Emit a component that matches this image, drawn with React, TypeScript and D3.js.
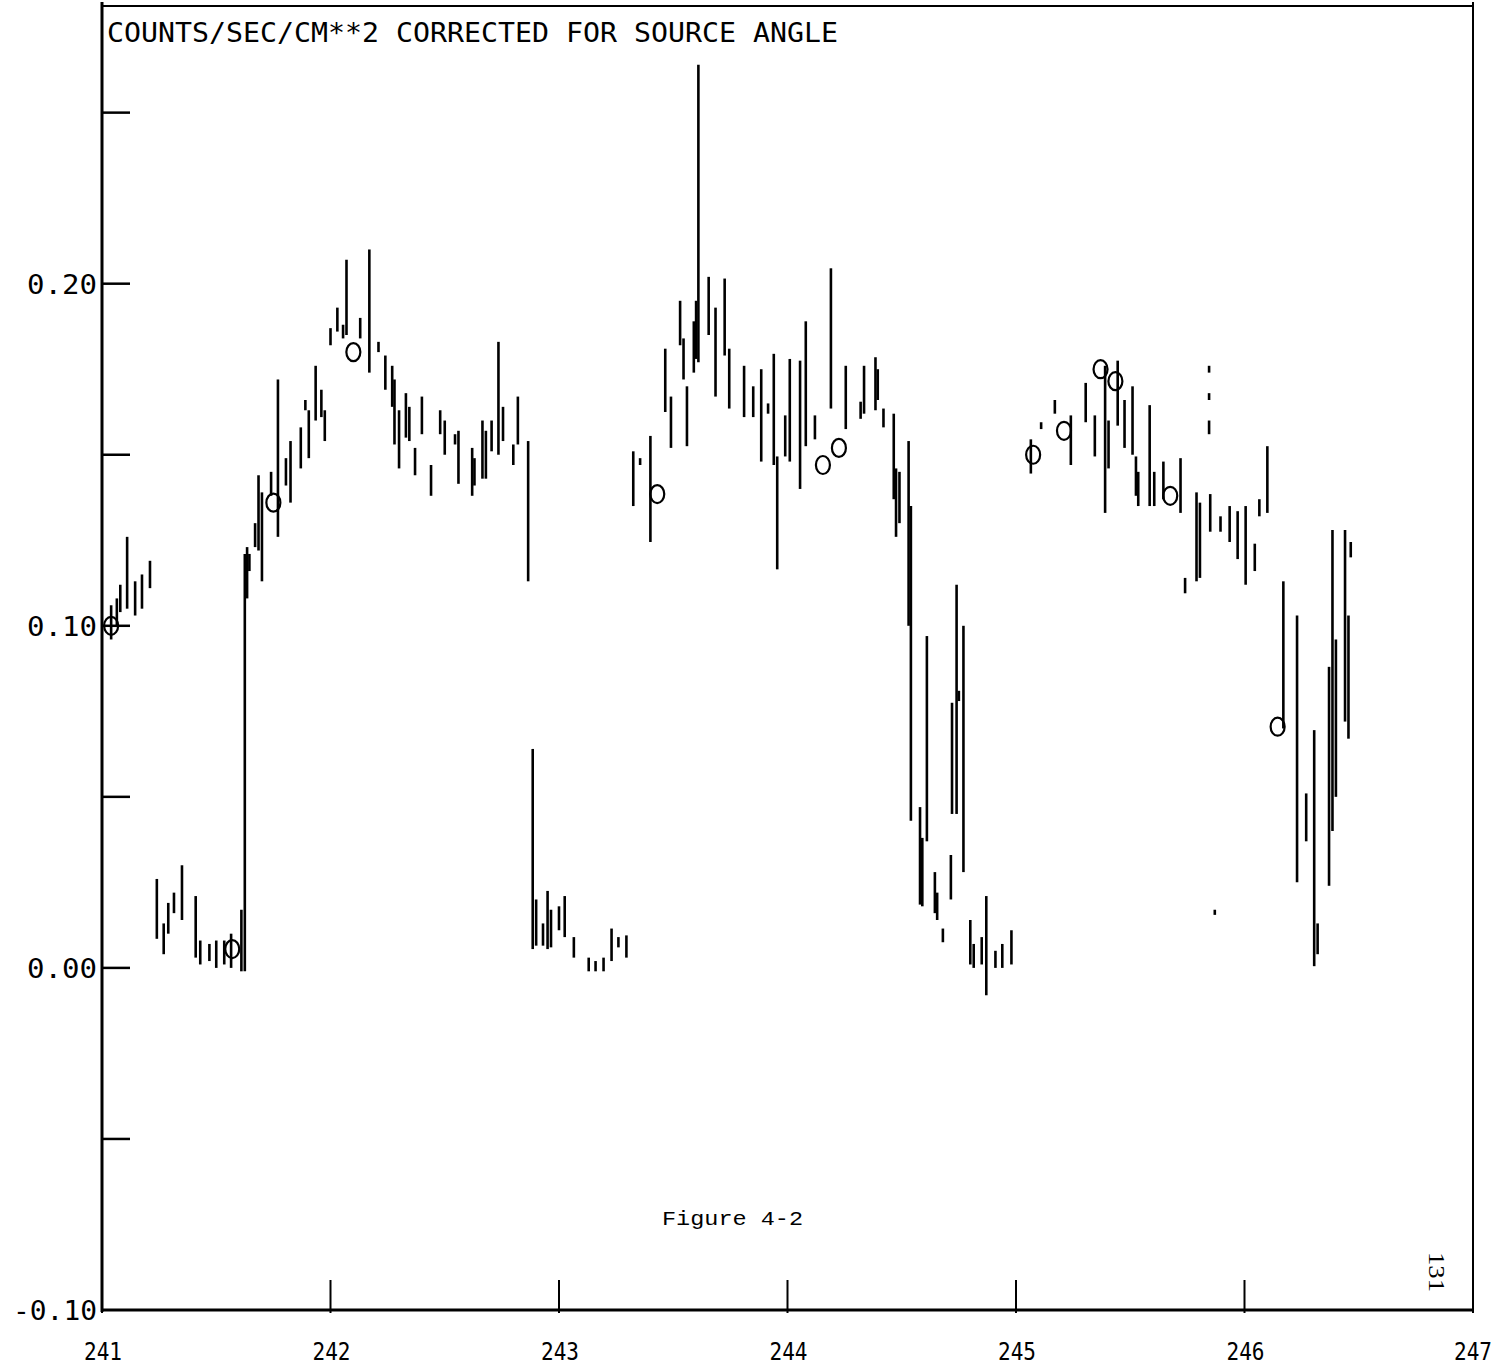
import React, { useEffect } from "react";
import * as d3 from "d3";

// Plotter chart: vertical bars are (day, low, high) count-rate ranges,
// "O" markers are the pass averages.

type Seg = [number, number, number];

const pass1: Seg[] = [
  [241.04, 0.096, 0.106], [241.065, 0.1, 0.108], [241.08, 0.104, 0.112],
  [241.11, 0.105, 0.126], [241.145, 0.103, 0.113], [241.175, 0.105, 0.115],
  [241.21, 0.111, 0.119],
];

const low1: Seg[] = [
  [241.24, 0.0085, 0.026], [241.27, 0.004, 0.013], [241.29, 0.01, 0.019],
  [241.315, 0.016, 0.022], [241.35, 0.014, 0.03], [241.41, 0.003, 0.021],
  [241.43, 0.001, 0.008], [241.47, 0.002, 0.007], [241.5, 0.0, 0.008],
  [241.535, 0.001, 0.008], [241.565, 0.0, 0.01], [241.61, -0.001, 0.017],
  [241.625, -0.001, 0.121],
];

const rise1: Seg[] = [
  [241.635, 0.108, 0.123], [241.645, 0.116, 0.121], [241.67, 0.123, 0.13],
  [241.685, 0.122, 0.144], [241.7, 0.113, 0.139], [241.74, 0.138, 0.145],
  [241.77, 0.126, 0.172], [241.805, 0.141, 0.149], [241.825, 0.136, 0.154],
  [241.87, 0.146, 0.158], [241.89, 0.163, 0.166], [241.905, 0.149, 0.163],
  [241.935, 0.16, 0.176], [241.96, 0.161, 0.169], [241.975, 0.154, 0.163],
];

const high1: Seg[] = [
  [242.0, 0.182, 0.187], [242.03, 0.186, 0.193], [242.055, 0.184, 0.188],
  [242.07, 0.185, 0.207], [242.13, 0.184, 0.19], [242.17, 0.174, 0.21],
  [242.21, 0.18, 0.183], [242.24, 0.169, 0.179], [242.27, 0.164, 0.176],
  [242.28, 0.153, 0.172], [242.3, 0.146, 0.163], [242.33, 0.155, 0.168],
  [242.345, 0.154, 0.164], [242.37, 0.144, 0.152], [242.4, 0.156, 0.167],
  [242.44, 0.138, 0.147], [242.48, 0.156, 0.163], [242.5, 0.15, 0.16],
  [242.545, 0.153, 0.156], [242.56, 0.1415, 0.157], [242.62, 0.138, 0.152],
  [242.63, 0.141, 0.149], [242.665, 0.143, 0.16], [242.68, 0.143, 0.157],
  [242.705, 0.151, 0.16], [242.735, 0.15, 0.183], [242.755, 0.154, 0.164],
  [242.8, 0.147, 0.153], [242.82, 0.153, 0.167], [242.865, 0.113, 0.154],
];

const low2: Seg[] = [
  [242.885, 0.0055, 0.064], [242.9, 0.0065, 0.02], [242.93, 0.0065, 0.013],
  [242.95, 0.0055, 0.0225], [242.965, 0.006, 0.017], [243.0, 0.011, 0.018],
  [243.025, 0.009, 0.021], [243.065, 0.003, 0.009], [243.13, -0.001, 0.003],
  [243.16, -0.001, 0.002], [243.195, -0.001, 0.003], [243.23, 0.002, 0.0115],
  [243.26, 0.006, 0.009], [243.295, 0.003, 0.0095],
];

const high2: Seg[] = [
  [243.325, 0.135, 0.151], [243.355, 0.147, 0.149], [243.4, 0.1245, 0.1555],
  [243.465, 0.1625, 0.181], [243.49, 0.152, 0.167], [243.53, 0.182, 0.195],
  [243.545, 0.172, 0.184], [243.56, 0.1525, 0.17], [243.59, 0.174, 0.189],
  [243.6, 0.178, 0.195], [243.61, 0.177, 0.264], [243.655, 0.185, 0.202],
  [243.685, 0.167, 0.193], [243.725, 0.179, 0.2015], [243.745, 0.1635, 0.181],
  [243.81, 0.161, 0.176], [243.85, 0.161, 0.17], [243.885, 0.148, 0.175],
  [243.915, 0.162, 0.165], [243.94, 0.147, 0.1795], [243.955, 0.1165, 0.1495],
  [243.99, 0.1495, 0.1615], [244.01, 0.148, 0.178], [244.055, 0.14, 0.1775],
  [244.08, 0.1525, 0.189], [244.12, 0.1545, 0.1615], [244.19, 0.1635, 0.2045],
  [244.255, 0.1575, 0.176], [244.32, 0.1605, 0.1655], [244.335, 0.162, 0.176],
  [244.385, 0.163, 0.1785], [244.395, 0.166, 0.175],
];

const drop1: Seg[] = [
  [244.42, 0.158, 0.1635], [244.465, 0.137, 0.162], [244.475, 0.126, 0.146],
  [244.49, 0.13, 0.145], [244.53, 0.1, 0.154], [244.54, 0.043, 0.135],
  [244.58, 0.0185, 0.047], [244.59, 0.018, 0.038], [244.61, 0.037, 0.097],
  [244.645, 0.016, 0.028], [244.655, 0.014, 0.022], [244.68, 0.0075, 0.0115],
  [244.715, 0.02, 0.033], [244.72, 0.045, 0.0775], [244.74, 0.045, 0.112],
  [244.75, 0.078, 0.081], [244.77, 0.028, 0.1],
];

const low3: Seg[] = [
  [244.8, 0.001, 0.014], [244.815, 0.0, 0.007], [244.85, 0.001, 0.009],
  [244.87, -0.008, 0.021], [244.91, 0.0, 0.005], [244.94, 0.0, 0.007],
  [244.98, 0.001, 0.011],
];

const high3: Seg[] = [
  [245.065, 0.1445, 0.1545], [245.11, 0.1575, 0.1595], [245.17, 0.162, 0.166],
  [245.24, 0.147, 0.1615], [245.305, 0.1595, 0.171], [245.345, 0.1495, 0.1615],
  [245.39, 0.133, 0.176], [245.405, 0.146, 0.16], [245.445, 0.1585, 0.1775],
  [245.475, 0.152, 0.166], [245.51, 0.15, 0.17], [245.525, 0.138, 0.1495],
  [245.535, 0.135, 0.145], [245.585, 0.135, 0.1645], [245.605, 0.135, 0.145],
  [245.645, 0.137, 0.148], [245.72, 0.133, 0.149], [245.74, 0.1095, 0.114],
  [245.79, 0.113, 0.139], [245.805, 0.114, 0.136], [245.845, 0.174, 0.176],
  [245.845, 0.166, 0.168], [245.845, 0.156, 0.16], [245.85, 0.1275, 0.1385],
  [245.87, 0.0155, 0.017], [245.895, 0.1275, 0.132], [245.935, 0.1245, 0.135],
  [245.97, 0.1195, 0.1335], [246.005, 0.112, 0.135], [246.045, 0.116, 0.124],
  [246.065, 0.132, 0.137], [246.1, 0.133, 0.1525],
];

const drop2: Seg[] = [
  [246.17, 0.07, 0.113], [246.23, 0.025, 0.103], [246.27, 0.037, 0.051],
  [246.305, 0.0005, 0.0695], [246.32, 0.004, 0.013], [246.37, 0.024, 0.088],
  [246.385, 0.04, 0.128], [246.4, 0.05, 0.096], [246.44, 0.072, 0.128],
  [246.455, 0.067, 0.103], [246.465, 0.12, 0.1245],
];

const markerDays = [
  241.04, 241.57, 241.75, 242.1, 243.43, 244.155, 244.225, 245.075, 245.21,
  245.37, 245.435, 245.675, 246.145,
];
const markerVals = [
  0.1, 0.0055, 0.136, 0.18, 0.1385, 0.147, 0.152, 0.15, 0.157, 0.175, 0.1715,
  0.138, 0.0705,
];

const xTicks = [241, 242, 243, 244, 245, 246, 247];
const yTicks = [-0.05, 0.0, 0.05, 0.1, 0.15, 0.2, 0.25];
const yLabelVals = [0.2, 0.1, 0.0, -0.1];
const yLabelText = ["0.20", "0.10", "0.00", "-0.10"];

const TITLE = "COUNTS/SEC/CM**2 CORRECTED FOR SOURCE ANGLE";

const W = 1501;
const H = 1368;
const L = 102;
const R = 1473;
const B = 1310;
const T = 10;

const MONO = "'DejaVu Sans Mono', 'Liberation Mono', monospace";

export default function App() {
  useEffect(() => {
    document.body.style.margin = "0";
  }, []);

  const x = d3.scaleLinear().domain([241, 247]).range([L, R]);
  const y = d3.scaleLinear().domain([-0.1, 0.28]).range([B, T]);

  const segs = [
    ...pass1, ...low1, ...rise1, ...high1, ...low2,
    ...high2, ...drop1, ...low3, ...high3, ...drop2,
  ];

  return (
    <svg width={W} height={H} style={{ display: "block", background: "#fff" }}>
      {/* frame */}
      <line x1={L} x2={R} y1={6} y2={6} stroke="#000" strokeWidth={2} />
      <line x1={R} x2={R} y1={2} y2={B} stroke="#000" strokeWidth={2} />
      <line x1={L} x2={L} y1={2} y2={B + 2} stroke="#000" strokeWidth={3} />
      <line x1={L} x2={R} y1={B} y2={B} stroke="#000" strokeWidth={3} />

      {/* y ticks, inward */}
      {yTicks.map((t) => (
        <line key={t} x1={L} x2={L + 28} y1={y(t)} y2={y(t)} stroke="#000" strokeWidth={2.5} />
      ))}
      {yLabelVals.map((v, i) => {
        const len = yLabelText[i].length === 5 ? 84 : 70;
        return (
          <text
            key={v}
            x={97 - len}
            y={y(v) + 10}
            fontFamily={MONO}
            fontSize={26}
            textLength={len}
            lengthAdjust="spacingAndGlyphs"
          >
            {yLabelText[i]}
          </text>
        );
      })}

      {/* x ticks, upward */}
      {xTicks.map((t) => (
        <line key={t} x1={x(t)} x2={x(t)} y1={B - 30} y2={B + 3} stroke="#000" strokeWidth={2} />
      ))}
      {xTicks.map((t, i) => {
        const last = i === xTicks.length - 1;
        return (
          <text
            key={t}
            x={last ? 1454 : x(t) - 18}
            y={1360}
            fontFamily={MONO}
            fontSize={25}
            textLength={38}
            lengthAdjust="spacingAndGlyphs"
          >
            {t}
          </text>
        );
      })}

      {/* title */}
      <text
        x={107}
        y={42}
        fontFamily={MONO}
        fontSize={27}
        textLength={731}
        lengthAdjust="spacingAndGlyphs"
      >
        {TITLE}
      </text>

      {/* data ranges */}
      {segs.map(([d, lo, hi], i) => (
        <line
          key={i}
          x1={x(d)}
          x2={x(d)}
          y1={y(lo)}
          y2={y(hi)}
          stroke="#000"
          strokeWidth={2.6}
        />
      ))}

      {/* pass averages */}
      {markerDays.map((d, i) => (
        <ellipse
          key={i}
          cx={x(d)}
          cy={y(markerVals[i])}
          rx={7}
          ry={9}
          fill="none"
          stroke="#000"
          strokeWidth={2.2}
        />
      ))}

      <text
        x={662}
        y={1225}
        fontFamily="'Liberation Mono', 'DejaVu Sans Mono', monospace"
        fontSize={21}
        textLength={141}
        lengthAdjust="spacingAndGlyphs"
      >
        Figure 4-2
      </text>

      <text
        transform="translate(1429,1252) rotate(90)"
        fontFamily="'Liberation Serif', 'DejaVu Serif', serif"
        fontSize={24}
        textLength={40}
        lengthAdjust="spacingAndGlyphs"
      >
        131
      </text>
    </svg>
  );
}
